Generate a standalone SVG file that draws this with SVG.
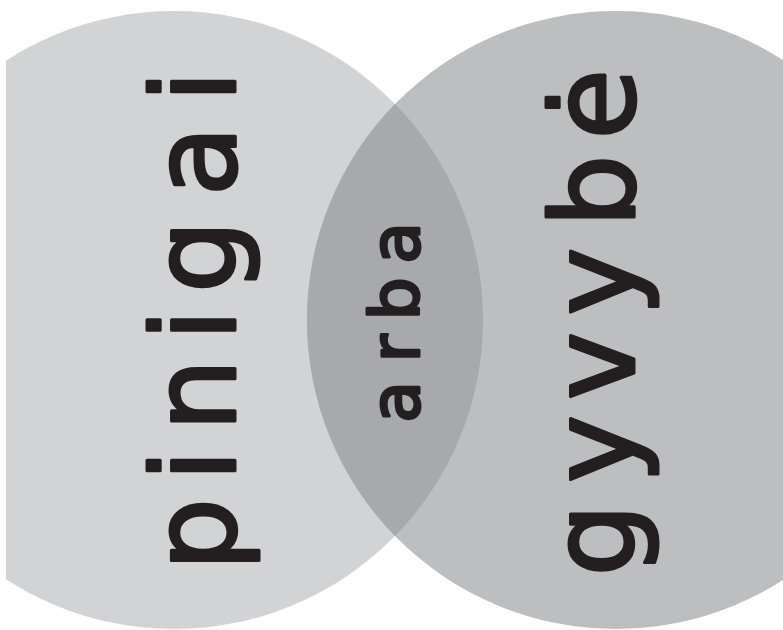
<svg xmlns="http://www.w3.org/2000/svg" width="783" height="630" viewBox="0 0 783 630">
<defs>
<style>
.lbl{font-family:"DejaVu Sans","Liberation Sans",sans-serif;fill:#231f20;stroke:#231f20;stroke-linejoin:round;text-anchor:middle}
.big{font-size:115px;stroke-width:3px}
.small{font-size:68px;stroke-width:3px}
</style>
<clipPath id="clipL"><rect x="6" y="0" width="777" height="630"/></clipPath>
</defs>
<rect width="783" height="630" fill="#ffffff"/>
<g id="set-left">
<circle cx="174" cy="320" r="309" fill="#d1d3d4" clip-path="url(#clipL)"/>
</g>
<g id="set-right">
<circle cx="616" cy="320" r="309" fill="#bcbec0"/>
</g>
<g id="set-overlap">
<path d="M395,104 A309,309 0 0,1 395,536 A309,309 0 0,1 395,104 Z" fill="#a7a9ac"/>
</g>
<g id="label-left">
<text class="lbl big" transform="rotate(-90)" y="234.5" x="-534.5 -465.5 -395 -325 -256.5 -161 -86.5">pinigai</text>
</g>
<g id="label-overlap">
<text class="lbl small" transform="rotate(-90)" y="418.5" x="-402 -348.5 -299 -243">arba</text>
</g>
<g id="label-right">
<text class="lbl big" transform="rotate(-90)" y="633.5" x="-540 -449 -366 -281.5 -191 -104">gyvybė</text>
</g>
</svg>
